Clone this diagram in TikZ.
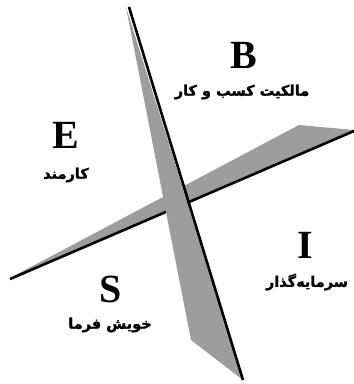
\documentclass[tikz,border=0pt]{standalone}
\usepackage{fontspec}
\setmainfont{Liberation Serif}
\newfontfamily\persianfont[Script=Arabic,FakeBold=1.6]{DejaVu Sans Bold}
\TeXXeTstate=1
\usepackage{tikz}

\definecolor{bladegray}{RGB}{157,157,157}
\tikzset{
  quadletter/.style={font=\bfseries\fontsize{40}{40}\selectfont, inner sep=0pt},
  quadlabel/.style={font=\persianfont\fontsize{14.5}{14.5}\selectfont, inner sep=0pt},
  blade/.style={fill=bladegray},
  bladeedge/.style={draw=black, line width=2.6pt}
}

\begin{document}
\begin{tikzpicture}[x=1pt,y=-1pt]
    \useasboundingbox (0,0) rectangle (354,384);

    % Horizontal blade
    \fill[blade] (10,278) -- (299,125) -- (354,130) -- cycle;
    \draw[bladeedge] (10,279) -- (354,131);

    % Vertical blade (on top)
    \fill[blade] (126,7) -- (191,340) -- (243,380) -- cycle;
    \draw[bladeedge] (129,7) -- (243,380);

    % Quadrant B
    \node[quadletter] (B) at (244,55) {B};
    \node[quadlabel] (Blabel) at (242,92) {\beginR مالکیت کسب و کار\endR};

    % Quadrant E
    \node[quadletter] (E) at (66,135) {E};
    \node[quadlabel] (Elabel) at (66,175) {\beginR کارمند\endR};

    % Quadrant I
    \node[quadletter] (I) at (305,245) {I};
    \node[quadlabel] (Ilabel) at (307,282) {\beginR سرمایه‌گذار\endR};

    % Quadrant S
    \node[quadletter] (S) at (111,289) {S};
    \node[quadlabel] (Slabel) at (110,325) {\beginR خویش فرما\endR};
\end{tikzpicture}
\end{document}
